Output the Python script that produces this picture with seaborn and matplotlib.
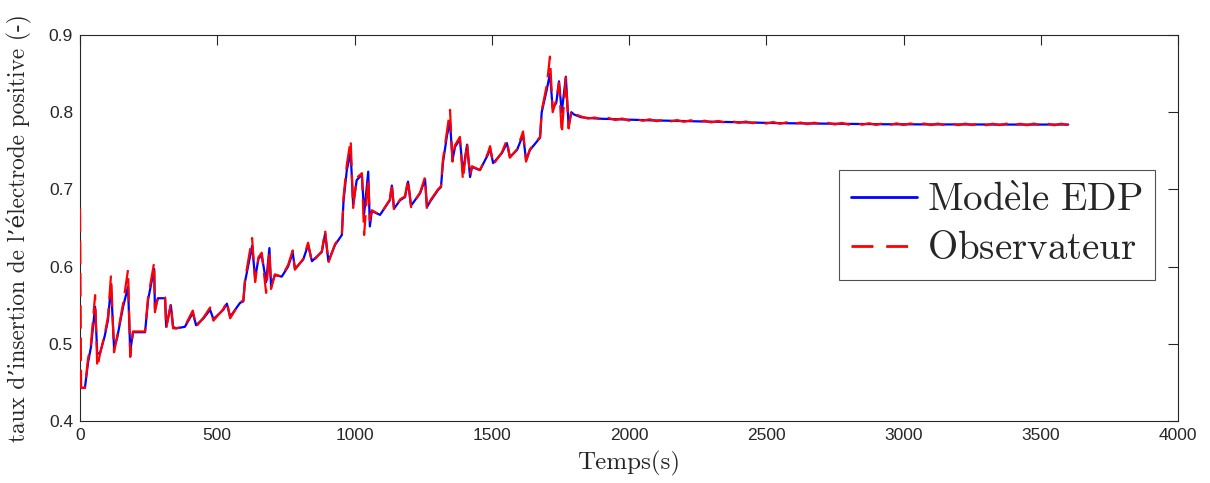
import numpy as np
import pandas as pd
import matplotlib
matplotlib.use("Agg")
import matplotlib.pyplot as plt
import seaborn as sns

# ---------------- data ----------------
time_s = [0, 4, 18, 29, 40, 55, 63, 73, 90, 102, 113, 124, 135, 157, 175, 183, 193, 237,
          248, 270, 273, 284, 310, 314, 331, 339, 350, 382, 411, 423, 450, 474, 486,
          522, 535, 547, 583, 595, 601, 627, 638, 650, 662, 678, 690, 696, 710, 735,
          758, 775, 783, 813, 831, 845, 881, 893, 905, 929, 954, 960, 972, 986, 995,
          1008, 1027, 1035, 1050, 1056, 1063, 1093, 1129, 1136, 1144, 1166, 1184, 1195,
          1206, 1239, 1257, 1264, 1275, 1304, 1315, 1322, 1337, 1348, 1357, 1366, 1384,
          1395, 1410, 1421, 1428, 1457, 1486, 1494, 1505, 1537, 1555, 1566, 1592, 1614,
          1625, 1639, 1676, 1682, 1701, 1712, 1722, 1735, 1745, 1755, 1770, 1780, 1790,
          1800]

modele_edp = [0.443, 0.443, 0.443, 0.475, 0.496, 0.548, 0.487, 0.488, 0.510, 0.531, 0.576,
              0.495, 0.507, 0.548, 0.574, 0.490, 0.515, 0.515, 0.557, 0.597, 0.545, 0.559,
              0.559, 0.522, 0.550, 0.522, 0.520, 0.522, 0.540, 0.524, 0.533, 0.544, 0.532,
              0.544, 0.552, 0.535, 0.553, 0.555, 0.580, 0.627, 0.585, 0.610, 0.615, 0.580,
              0.624, 0.575, 0.589, 0.587, 0.600, 0.618, 0.597, 0.609, 0.628, 0.607, 0.619,
              0.643, 0.607, 0.628, 0.641, 0.685, 0.725, 0.748, 0.680, 0.712, 0.719, 0.668,
              0.723, 0.652, 0.672, 0.667, 0.686, 0.705, 0.675, 0.686, 0.690, 0.710, 0.679,
              0.695, 0.713, 0.677, 0.684, 0.699, 0.703, 0.734, 0.770, 0.787, 0.738, 0.755,
              0.765, 0.722, 0.758, 0.716, 0.729, 0.725, 0.745, 0.753, 0.734, 0.747, 0.760,
              0.742, 0.751, 0.771, 0.738, 0.751, 0.767, 0.800, 0.830, 0.850, 0.805, 0.812,
              0.840, 0.800, 0.846, 0.782, 0.800, 0.797]

observateur = [0.675, 0.443, 0.443, 0.480, 0.500, 0.563, 0.469, 0.487, 0.512, 0.535, 0.589,
               0.489, 0.509, 0.552, 0.596, 0.483, 0.516, 0.516, 0.560, 0.605, 0.541, 0.561,
               0.560, 0.520, 0.552, 0.520, 0.520, 0.523, 0.543, 0.522, 0.534, 0.547, 0.530,
               0.545, 0.555, 0.533, 0.554, 0.556, 0.583, 0.637, 0.580, 0.612, 0.618, 0.566,
               0.620, 0.571, 0.590, 0.587, 0.602, 0.621, 0.596, 0.610, 0.631, 0.605, 0.620,
               0.647, 0.605, 0.629, 0.642, 0.690, 0.732, 0.764, 0.676, 0.715, 0.721, 0.641,
               0.715, 0.660, 0.673, 0.667, 0.687, 0.708, 0.673, 0.687, 0.691, 0.713, 0.677,
               0.696, 0.716, 0.673, 0.685, 0.700, 0.704, 0.738, 0.775, 0.803, 0.736, 0.757,
               0.768, 0.712, 0.760, 0.718, 0.730, 0.725, 0.747, 0.756, 0.732, 0.748, 0.764,
               0.741, 0.752, 0.775, 0.736, 0.752, 0.768, 0.802, 0.836, 0.872, 0.800, 0.816,
               0.838, 0.772, 0.845, 0.779, 0.802, 0.798]

tail_time_s = list(range(1825, 3601, 25))

modele_tail = [0.7935, 0.7925, 0.7920, 0.7915, 0.7912, 0.7908, 0.7905, 0.7902, 0.7900, 0.7898,
               0.7895, 0.7893, 0.7890, 0.7888, 0.7886, 0.7884, 0.7882, 0.7880, 0.7879, 0.7877,
               0.7876, 0.7874, 0.7872, 0.7870, 0.7868, 0.7866, 0.7864, 0.7862, 0.7860, 0.7858,
               0.7857, 0.7856, 0.7855, 0.7854, 0.7853, 0.7852, 0.7851, 0.7850, 0.7849, 0.7848,
               0.7847, 0.7846, 0.7845, 0.7845, 0.7844, 0.7844, 0.7843, 0.7843, 0.7843, 0.7842,
               0.7842, 0.7842, 0.7842, 0.7841, 0.7841, 0.7841, 0.7841, 0.7841, 0.7841, 0.7840,
               0.7840, 0.7840, 0.7840, 0.7840, 0.7840, 0.7840, 0.7840, 0.7840, 0.7840, 0.7840,
               0.7840, 0.7840]

observateur_tail = [0.7945, 0.7918, 0.7931, 0.7904, 0.7925, 0.7899, 0.7918, 0.7891, 0.7912, 0.7889,
                    0.7908, 0.7884, 0.7901, 0.7879, 0.7897, 0.7876, 0.7895, 0.7871, 0.7890, 0.7868,
                    0.7886, 0.7866, 0.7884, 0.7861, 0.7879, 0.7858, 0.7876, 0.7853, 0.7872, 0.7851,
                    0.7869, 0.7848, 0.7866, 0.7846, 0.7864, 0.7843, 0.7862, 0.7841, 0.7861, 0.7839,
                    0.7858, 0.7838, 0.7857, 0.7836, 0.7856, 0.7835, 0.7855, 0.7834, 0.7854, 0.7836,
                    0.7853, 0.7833, 0.7852, 0.7834, 0.7853, 0.7832, 0.7851, 0.7833, 0.7852, 0.7831,
                    0.7850, 0.7833, 0.7851, 0.7832, 0.7850, 0.7831, 0.7852, 0.7832, 0.7850, 0.7831,
                    0.7851, 0.7833]

x_ticks = [0, 500, 1000, 1500, 2000, 2500, 3000, 3500, 4000]
y_ticks = [0.4, 0.5, 0.6, 0.7, 0.8, 0.9]
series_labels = [r"$\mathrm{Mod\grave{e}le\ EDP}$", r"$\mathrm{Observateur}$"]
x_label = "Temps(s)"
y_label = "taux d\u2019insertion de l\u2019électrode positive (-)"

# ---------------- build tables ----------------
n_tail = min(len(tail_time_s), len(modele_tail), len(observateur_tail))
t_all = list(time_s) + tail_time_s[:n_tail]
df_m = pd.DataFrame({"t": t_all, "v": list(modele_edp) + modele_tail[:n_tail]})
df_o = pd.DataFrame({"t": t_all, "v": list(observateur) + observateur_tail[:n_tail]})

# ---------------- style ----------------
sns.set_theme(style="white")
serif = ["cmr10", "DejaVu Serif"]
plt.rcParams["font.family"] = ["Liberation Sans", "DejaVu Sans"]
plt.rcParams["axes.unicode_minus"] = False
plt.rcParams["mathtext.fontset"] = "cm"

fig = plt.figure(figsize=(12.10, 4.83), dpi=100)
ax = fig.add_axes([80 / 1210, 1 - 421 / 483, 1098 / 1210, 386 / 483])

sns.lineplot(data=df_m, x="t", y="v", ax=ax, sort=False, estimator=None,
             color="#0000ff", linewidth=1.6, label=series_labels[0])
sns.lineplot(data=df_o, x="t", y="v", ax=ax, sort=False, estimator=None,
             color="#ff0000", linewidth=1.6, label=series_labels[1])
ax.lines[1].set_dashes((10.5, 4.0))
for ln in ax.lines[:2]:
    ln.set_zorder(3)

ax.set_xlim(0, 4000)
ax.set_ylim(0.4, 0.9)
ax.set_xticks(x_ticks)
ax.set_yticks(y_ticks)
ax.set_xticklabels([str(v) for v in x_ticks])
ax.set_yticklabels([f"{v:.1f}" for v in y_ticks])

for s in ax.spines.values():
    s.set_visible(True)
    s.set_color("#262626")
    s.set_linewidth(0.8)
ax.tick_params(direction="in", length=7, width=0.8, color="#262626",
               top=True, right=True, labelsize=12.5, labelcolor="#262626", pad=5)

ax.set_xlabel(x_label, family=serif, fontsize=18, color="#262626", labelpad=6)
ax.set_ylabel(y_label, family=serif, fontsize=16.8, color="#262626", labelpad=12)

leg = ax.legend(loc="upper right", bbox_to_anchor=(0.979, 0.650), borderaxespad=0,
                frameon=True, fancybox=False, handlelength=1.7, handletextpad=0.25,
                labelspacing=0.33, borderpad=0.32,
                prop={"size": 28})
leg.get_frame().set_edgecolor("#262626")
leg.get_frame().set_linewidth(0.8)
for h in leg.get_lines():
    h.set_linewidth(2.0)
leg.get_lines()[1].set_dashes((7.9, 4.6))

fig.savefig("out.png", dpi=100, facecolor="white")
